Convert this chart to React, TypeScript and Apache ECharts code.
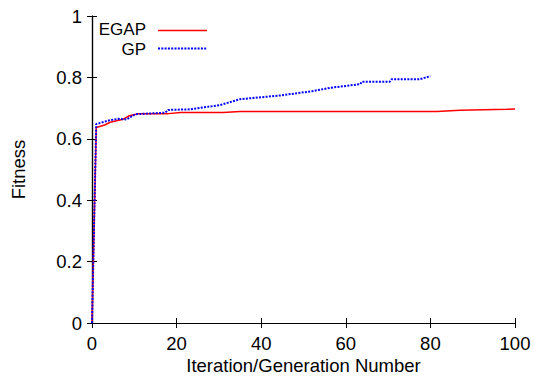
import React, { useEffect, useRef } from "react";
import * as echarts from "echarts";

const egapX = [0, 1, 3, 4.3, 5.8, 7.4, 8.8, 11, 18, 21, 31, 35, 81.5, 87, 98, 100];
const egapY = [0, 0.637, 0.645, 0.654, 0.659, 0.664, 0.675, 0.682, 0.682, 0.686, 0.686, 0.689, 0.689, 0.693, 0.696, 0.697];

const gpX = [0, 1, 4.3, 6.2, 8.2, 10.2, 17.3, 18, 23.2, 30.3, 35, 44.4, 52, 56.3, 63.4, 63.8, 70.4, 70.8, 77.5, 80];
const gpY = [0, 0.648, 0.661, 0.665, 0.663, 0.68, 0.685, 0.694, 0.696, 0.71, 0.729, 0.741, 0.755, 0.766, 0.778, 0.786, 0.786, 0.794, 0.794, 0.804];

const seriesNames = ["EGAP", "GP"];
const xTitle = "Iteration/Generation Number";
const yTitle = "Fitness";

const FONT = "'Liberation Sans', Arial, Helvetica, sans-serif";
const FS = 18.5;
const LFS = 17;

export default function App() {
  const ref = useRef<HTMLDivElement>(null);
  useEffect(() => {
    if (!ref.current) return;
    const chart = echarts.init(ref.current, null, { renderer: "svg" });
    const axisLine = { show: true, lineStyle: { color: "#000", width: 1.2 } };
    const tick = { show: true, inside: true, length: 5, lineStyle: { color: "#000", width: 1 } };
    const hidden = { show: false };
    chart.setOption({
      animation: false,
      backgroundColor: "#fff",
      grid: { left: 92, right: 19, top: 16, bottom: 53, containLabel: false, outerBoundsMode: "none" },
      xAxis: [
        {
          type: "value", min: 0, max: 100, interval: 20, position: "bottom",
          axisLine, axisTick: tick, splitLine: hidden,
          axisLabel: { color: "#000", fontFamily: FONT, fontSize: FS, margin: 11 },
          name: xTitle, nameLocation: "middle", nameGap: 33, nameMoveOverlap: false,
          nameTextStyle: { color: "#000", fontFamily: FONT, fontSize: FS, lineHeight: 18 },
        },
        {
          type: "value", min: 0, max: 100, interval: 20, position: "top",
          axisLine, axisTick: tick, splitLine: hidden, axisLabel: hidden,
        },
      ],
      yAxis: [
        {
          type: "value", min: 0, max: 1, interval: 0.2, position: "left",
          axisLine, axisTick: tick, splitLine: hidden,
          axisLabel: { color: "#000", fontFamily: FONT, fontSize: FS, margin: 10 },
          name: yTitle, nameLocation: "middle", nameGap: 64, nameRotate: 90, nameMoveOverlap: false,
          nameTextStyle: { color: "#000", fontFamily: FONT, fontSize: FS },
        },
        {
          type: "value", min: 0, max: 1, interval: 0.2, position: "right",
          axisLine, axisTick: tick, splitLine: hidden, axisLabel: hidden,
        },
      ],
      series: [
        {
          name: seriesNames[0], type: "line", symbol: "none",
          data: egapX.map((x, i) => [x, egapY[i]]),
          lineStyle: { color: "#ff0000", width: 1.5 },
          z: 2,
        },
        {
          name: seriesNames[1], type: "line", symbol: "none",
          data: gpX.map((x, i) => [x, gpY[i]]),
          lineStyle: { color: "#0000ff", width: 2, type: [2, 1.3] },
          z: 3,
        },
      ],
      graphic: [
        { type: "text", x: 146, y: 29.5, style: { text: seriesNames[0], fill: "#000", font: `${LFS}px ${FONT}`, lineHeight: 16, align: "right", verticalAlign: "middle" } },
        { type: "line", shape: { x1: 158, y1: 30.5, x2: 207, y2: 30.5 }, style: { stroke: "#ff0000", lineWidth: 1.5 } },
        { type: "text", x: 146, y: 49, style: { text: seriesNames[1], fill: "#000", font: `${LFS}px ${FONT}`, lineHeight: 16, align: "right", verticalAlign: "middle" } },
        { type: "line", shape: { x1: 158, y1: 48.5, x2: 207, y2: 48.5 }, style: { stroke: "#0000ff", lineWidth: 2, lineDash: [2, 1.3] } },
      ],
    });
    return () => chart.dispose();
  }, []);
  return <div ref={ref} style={{ width: 534, height: 376, position: "absolute", left: 0, top: 0 }} />;
}
